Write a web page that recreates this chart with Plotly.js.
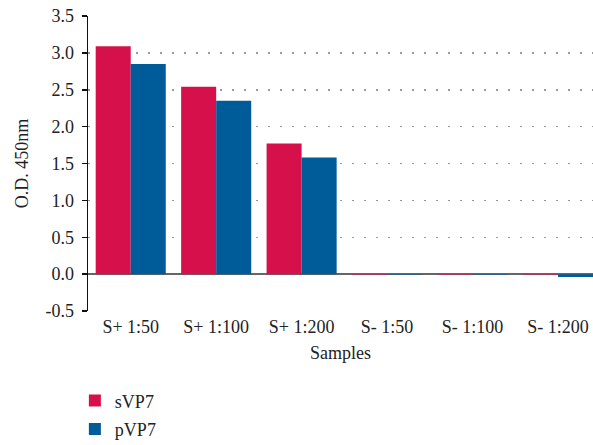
<!DOCTYPE html>
<html>
<head>
<meta charset="utf-8">
<script src="https://cdn.plot.ly/plotly-3.0.1.min.js"></script>
<style>html,body{margin:0;padding:0;background:#fff;}#chart{width:593px;height:445px;}</style>
</head>
<body>
<div id="chart"></div>
<script>
var categories = ["S+ 1:50", "S+ 1:100", "S+ 1:200", "S- 1:50", "S- 1:100", "S- 1:200"];
var sVP7 = [3.09, 2.54, 1.77, -0.01, -0.01, -0.01];
var pVP7 = [2.85, 2.35, 1.58, -0.01, -0.01, -0.04];
var yTicks = [-0.5, 0, 0.5, 1, 1.5, 2, 2.5, 3, 3.5];
var yTickText = yTicks.map(function (v) { return v.toFixed(1); });

var font = "Liberation Serif, Times New Roman, serif";
var fs = 18;
var traces = [
  {type: "bar", name: "sVP7", x: categories, y: sVP7, marker: {color: "#D5104A"}, legendgroup: "a"},
  {type: "bar", name: "pVP7", x: categories, y: pVP7, marker: {color: "#005B99"}, legendgroup: "b"}
];
var layout = {
  width: 593, height: 445,
  margin: {l: 88, r: 0, t: 16, b: 134, autoexpand: false},
  paper_bgcolor: "#fff", plot_bgcolor: "#fff",
  font: {family: font, size: fs, color: "#222"},
  barmode: "group", bargap: 0.18, bargroupgap: 0,
  showlegend: true,
  legend: {x: -0.026, xanchor: "left", y: -0.242, yanchor: "top", orientation: "v",
           font: {family: font, size: fs, color: "#222"}, tracegroupgap: 2, bgcolor: "rgba(0,0,0,0)"},
  xaxis: {
    range: [-0.5, 5.41], showline: false, showgrid: false, zeroline: false, ticks: "",
    ticklabelstandoff: 3,
    tickfont: {family: font, size: fs, color: "#222"},
    title: {text: "Samples", font: {family: font, size: fs, color: "#222"}, standoff: 10}
  },
  yaxis: {
    range: [-0.5, 3.5], tickvals: yTicks, ticktext: yTickText,
    showline: true, linecolor: "#111", linewidth: 1.5,
    ticks: "outside", ticklen: 5, tickwidth: 1.5, tickcolor: "#111",
    ticklabelstandoff: 4,
    showgrid: true, gridcolor: "#9a9a9a", gridwidth: 1.5, griddash: "1.5px,10.5px",
    zeroline: true, zerolinecolor: "#666", zerolinewidth: 1.5,
    tickfont: {family: font, size: fs, color: "#222"},
    title: {text: "O.D. 450nm", font: {family: font, size: fs, color: "#222"}, standoff: 12}
  }
};
Plotly.newPlot("chart", traces, layout, {displayModeBar: false, staticPlot: true});
</script>
</body>
</html>
